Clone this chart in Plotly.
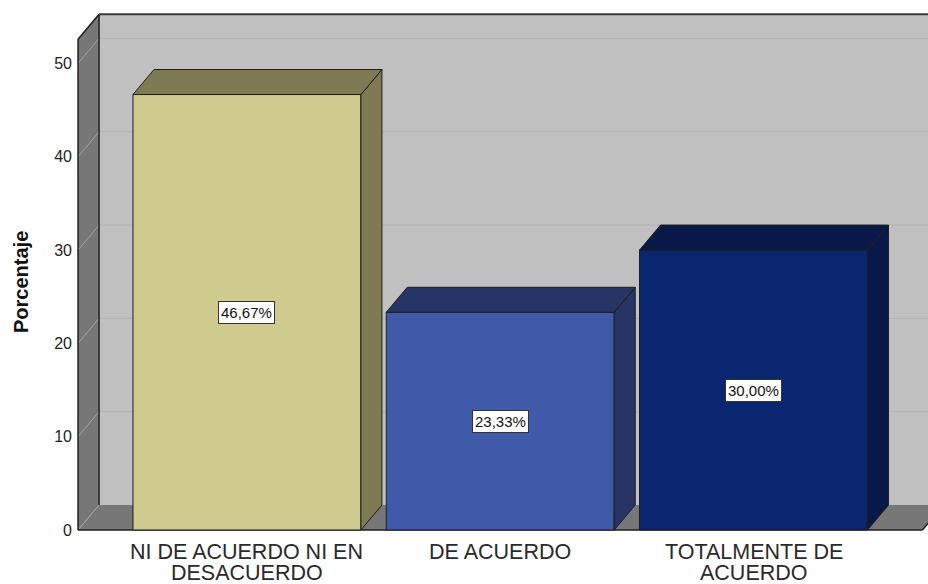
import plotly.graph_objects as go

# Data
categories = ["NI DE ACUERDO NI EN\nDESACUERDO", "DE ACUERDO", "TOTALMENTE DE\nACUERDO"]
percentages = [46.67, 23.33, 30.00]
value_labels = ["46,67%", "23,33%", "30,00%"]
y_ticks = [0, 10, 20, 30, 40, 50]
y_title = "Porcentaje"

# Styling
front_colors = ["#CFCB8F", "#3F5AA8", "#0B2670"]
shade_colors = ["#7E7A54", "#263566", "#071849"]
WALL_COLOR = "#C0C0C0"
SIDE_COLOR = "#777777"
EDGE_COLOR = "#1E1E1E"
FONT = "Liberation Sans, Arial, sans-serif"

# 3D box geometry (axis units)
BAR_WIDTH = 0.9
DEPTH_X = 0.083
DEPTH_Y = 2.68
WALL_LEFT = -0.667
WALL_RIGHT = 2.667
WALL_TOP = 52.6

xs = list(range(len(categories)))


def path(points):
    return "M " + " L ".join(f"{x},{y}" for x, y in points) + " Z"


def line(x0, y0, x1, y1, color, width=1, layer="below"):
    return dict(type="line", xref="x", yref="y", x0=x0, y0=y0, x1=x1, y1=y1,
                line=dict(color=color, width=width), layer=layer)


def poly(points, fill, edge=None, layer="below"):
    return dict(type="path", xref="x", yref="y", path=path(points),
                fillcolor=fill, layer=layer,
                line=dict(color=edge or fill, width=1 if edge else 0))


shapes = []
bl, br = WALL_LEFT + DEPTH_X, WALL_RIGHT + DEPTH_X

# back wall
shapes.append(poly([(bl, DEPTH_Y), (br, DEPTH_Y), (br, WALL_TOP + DEPTH_Y), (bl, WALL_TOP + DEPTH_Y)], WALL_COLOR))
# left wall
shapes.append(poly([(WALL_LEFT, 0), (WALL_LEFT, WALL_TOP), (bl, WALL_TOP + DEPTH_Y), (bl, DEPTH_Y)], SIDE_COLOR))
# floor
shapes.append(poly([(WALL_LEFT, 0), (WALL_RIGHT, 0), (br, DEPTH_Y), (bl, DEPTH_Y)], SIDE_COLOR))

# gridlines on back and left walls
for v in y_ticks:
    if v > 0:
        shapes.append(line(bl, v + DEPTH_Y, br, v + DEPTH_Y, "#B3B3B3"))
    shapes.append(line(WALL_LEFT, v, bl, v + DEPTH_Y, "#A2A2A2"))

# box edges
shapes.append(line(WALL_LEFT, 0, WALL_LEFT, WALL_TOP, EDGE_COLOR, 1.5))
shapes.append(line(WALL_LEFT, WALL_TOP, bl, WALL_TOP + DEPTH_Y, EDGE_COLOR, 1.5))
shapes.append(line(bl, DEPTH_Y, bl, WALL_TOP + DEPTH_Y, EDGE_COLOR, 1.5))
shapes.append(line(bl, WALL_TOP + DEPTH_Y, br, WALL_TOP + DEPTH_Y, "#3A3A3A", 2))
shapes.append(line(WALL_LEFT, 0, WALL_RIGHT, 0, EDGE_COLOR, 1.5))
shapes.append(line(WALL_RIGHT, 0, br, DEPTH_Y, EDGE_COLOR, 1.5))

# bar side and top faces
for x, v, shade in zip(xs, percentages, shade_colors):
    l, r = x - BAR_WIDTH / 2, x + BAR_WIDTH / 2
    shapes.append(poly([(r, 0), (r + DEPTH_X, DEPTH_Y), (r + DEPTH_X, v + DEPTH_Y), (r, v)],
                       shade, EDGE_COLOR, layer="above"))
    shapes.append(poly([(l, v), (l + DEPTH_X, v + DEPTH_Y), (r + DEPTH_X, v + DEPTH_Y), (r, v)],
                       shade, EDGE_COLOR, layer="above"))

fig = go.Figure()
fig.add_trace(go.Bar(
    x=xs, y=percentages, width=BAR_WIDTH,
    marker=dict(color=front_colors, line=dict(color=EDGE_COLOR, width=1)),
    hoverinfo="skip", showlegend=False,
))

annotations = []
for x, v, txt in zip(xs, percentages, value_labels):
    annotations.append(dict(
        x=x, y=v / 2, xref="x", yref="y", text=txt, showarrow=False,
        bgcolor="white", bordercolor="#333333", borderwidth=1, borderpad=2,
        font=dict(family=FONT, size=15, color="#111111"),
    ))

for x, cat in zip(xs, categories):
    for j, part in enumerate(cat.split("\n")):
        annotations.append(dict(
            x=x, y=0, xref="x", yref="paper", text=part, showarrow=False,
            yanchor="middle", yshift=-18 - 21 * j,
            font=dict(family=FONT, size=21.5, color="#2A2A2A"),
        ))

annotations.append(dict(
    x=0, y=(534 - 282) / 524, xref="paper", yref="paper", xshift=-55,
    xanchor="center", yanchor="middle",
    text=f"<b>{y_title}</b>", textangle=-90, showarrow=False,
    font=dict(family=FONT, size=20, color="#111111"),
))

fig.update_layout(
    width=928, height=584,
    margin=dict(l=76, r=0, t=10, b=50),
    paper_bgcolor="white", plot_bgcolor="white",
    shapes=shapes, annotations=annotations,
    xaxis=dict(range=[-0.675, 2.689], showticklabels=False, showgrid=False,
               zeroline=False, showline=False, fixedrange=True),
    yaxis=dict(range=[-0.43, 55.73], tickvals=y_ticks, showgrid=False,
               zeroline=False, showline=False, ticks="", ticklabelstandoff=3,
               tickfont=dict(family=FONT, size=16, color="#222222"), fixedrange=True),
    font=dict(family=FONT),
)

fig.write_html("out.html")
